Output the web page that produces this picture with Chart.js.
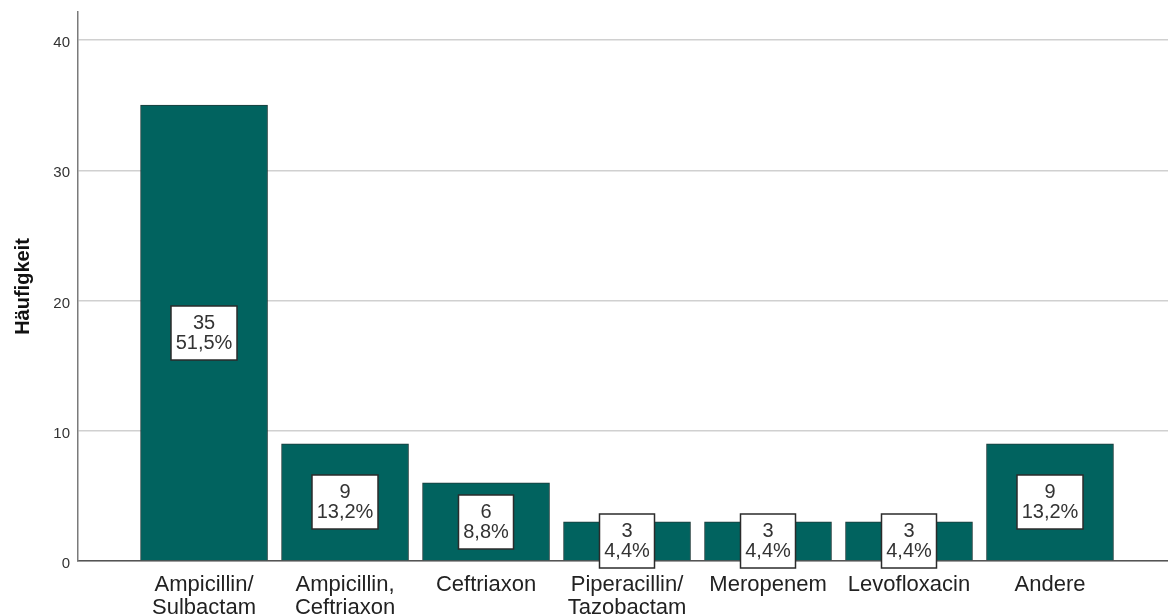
<!DOCTYPE html>
<html>
<head>
<meta charset="utf-8">
<script src="https://cdn.jsdelivr.net/npm/chart.js@4"></script>
<style>
  html, body { margin: 0; padding: 0; background: #fff; }
  #wrap { width: 1168px; height: 616px; }
</style>
</head>
<body>
<div id="wrap"><canvas id="myChart"></canvas></div>
<script>
const categories = [
  ['Ampicillin/', 'Sulbactam'],
  ['Ampicillin,', 'Ceftriaxon'],
  'Ceftriaxon',
  ['Piperacillin/', 'Tazobactam'],
  'Meropenem',
  'Levofloxacin',
  'Andere',
];
const counts = [35, 9, 6, 3, 3, 3, 9];
const percentLabels = ['51,5%', '13,2%', '8,8%', '4,4%', '4,4%', '4,4%', '13,2%'];
const yTicks = [0, 10, 20, 30, 40];

const FONT = "'Liberation Sans', Arial, sans-serif";

// white count/percent boxes, centred halfway up each bar
const boxLabels = {
  id: 'boxLabels',
  afterDatasetsDraw(chart) {
    const { ctx } = chart;
    const yScale = chart.scales.y;
    const meta = chart.getDatasetMeta(0);
    ctx.save();
    ctx.font = `20px ${FONT}`;
    ctx.textAlign = 'center';
    ctx.textBaseline = 'middle';
    meta.data.forEach((bar, i) => {
      const lines = [String(counts[i]), percentLabels[i]];
      const w = Math.round(Math.max(...lines.map((t) => ctx.measureText(t).width)) + 9);
      const h = 54;
      const cx = Math.round(bar.x);
      const cy = Math.round(yScale.getPixelForValue(counts[i] / 2));
      ctx.fillStyle = '#ffffff';
      ctx.fillRect(cx - w / 2, cy - h / 2, w, h);
      ctx.strokeStyle = '#2b2b2b';
      ctx.lineWidth = 1.5;
      ctx.strokeRect(cx - w / 2, cy - h / 2, w, h);
      ctx.fillStyle = '#333333';
      ctx.fillText(lines[0], cx, cy - 10);
      ctx.fillText(lines[1], cx, cy + 10);
    });
    ctx.restore();
  },
};

const ctx = document.getElementById('myChart').getContext('2d');
const myChart = new Chart(ctx, {
  type: 'bar',
  data: {
    datasets: [
      {
        label: 'Häufigkeit',
        data: counts.map((c, i) => ({ x: i, y: c })),
        backgroundColor: '#01635f',
        borderColor: '#1f3b3a',
        borderWidth: 1,
        barThickness: 127,
      },
    ],
  },
  plugins: [boxLabels],
  options: {
    responsive: true,
    maintainAspectRatio: false,
    animation: false,
    layout: {
      padding: { top: 12, left: 0, right: 0, bottom: 0 },
    },
    plugins: {
      legend: { display: false },
      tooltip: { enabled: false },
    },
    scales: {
      x: {
        type: 'linear',
        offset: false,
        min: -0.894,
        max: 6.837,
        afterBuildTicks(scale) {
          scale.ticks = categories.map((_, i) => ({ value: i }));
        },
        afterFit(scale) {
          scale.height = 55;
          scale.paddingLeft = 0;
          scale.paddingRight = 0;
        },
        grid: { display: false, drawTicks: false, offset: false },
        border: { display: true, color: '#555555', width: 1.5 },
        ticks: {
          autoSkip: false,
          maxRotation: 0,
          padding: 12,
          color: '#222222',
          font: { family: FONT, size: 22, lineHeight: 1.05 },
          callback: (value) => categories[value],
        },
      },
      y: {
        min: 0,
        max: 42.15,
        afterBuildTicks(scale) {
          scale.ticks = yTicks.map((v) => ({ value: v }));
        },
        afterFit(scale) {
          scale.width = 78;
          scale.paddingTop = 0;
          scale.paddingBottom = 0;
        },
        grid: { color: '#d0d0d0', lineWidth: 1.5, drawTicks: false },
        border: { display: true, color: '#7a7a7a', width: 1.5 },
        ticks: {
          padding: 8,
          labelOffset: 3,
          color: '#333333',
          font: { family: FONT, size: 15 },
        },
        title: {
          display: true,
          text: 'Häufigkeit',
          color: '#111111',
          padding: { top: 13, bottom: 0 },
          font: { family: FONT, size: 20, weight: 'bold', lineHeight: 1 },
        },
      },
    },
  },
});
</script>
</body>
</html>
